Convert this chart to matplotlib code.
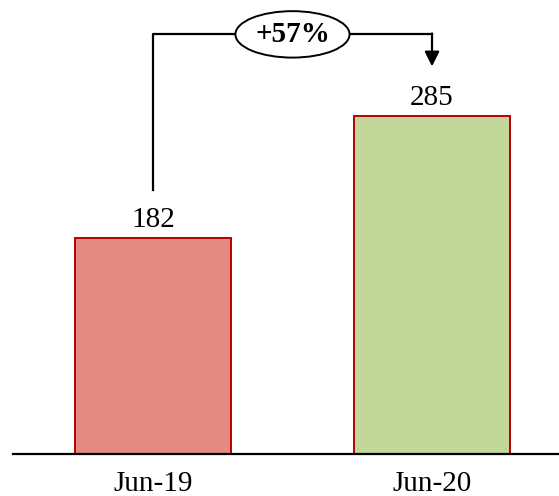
import matplotlib.pyplot as plt
import numpy as np

periods = ['Jun-19', 'Jun-20']
values = [182, 285]
change_label = '+57%'

plt.rcParams['font.family'] = ['Liberation Serif', 'DejaVu Serif']

fig = plt.figure(figsize=(5.59, 4.96), dpi=100)
ax = fig.add_axes([0.0, 0.0847, 1.0, 0.9153])

x = np.arange(len(periods))
bars = ax.bar(x, values, width=0.559, color=['#E48A83', '#C4D79B'],
              edgecolor='#B80000', linewidth=1.4)

for rect, v in zip(bars, values):
    ax.annotate('{}'.format(v),
                xy=(rect.get_x() + rect.get_width() / 2, v),
                xytext=(0, 4), textcoords='offset points',
                ha='center', va='bottom', fontsize=21)

ax.set_xlim(-0.548, 1.455)
ax.set_ylim(0, 383)

# growth connector
x0 = x[0]
x1 = x[1]
y_start = 223
y_top = 354
y_tip = 327
ax.plot([x0, x0, x1], [y_start, y_top, y_top], color='black', lw=1.6)
ax.annotate('', xy=(x1, y_tip), xytext=(x1, y_top + 0.7),
            arrowprops=dict(arrowstyle='-|>', color='black', lw=1.6,
                            mutation_scale=22, shrinkA=0, shrinkB=0))
ax.text((x0 + x1) / 2, y_top, change_label, ha='center', va='center',
        fontsize=21, fontweight='bold',
        bbox=dict(boxstyle='ellipse,pad=0.1', fc='white', ec='black', lw=1.4))

for s in ['top', 'right', 'left']:
    ax.spines[s].set_visible(False)
ax.spines['bottom'].set_linewidth(1.6)
ax.spines['bottom'].set_bounds(-0.502, 1.455)
ax.set_yticks([])
ax.set_xticks(x)
ax.set_xticklabels(periods, fontsize=21)
ax.tick_params(axis='x', length=0, pad=12)

fig.savefig('out.png', dpi=100)
